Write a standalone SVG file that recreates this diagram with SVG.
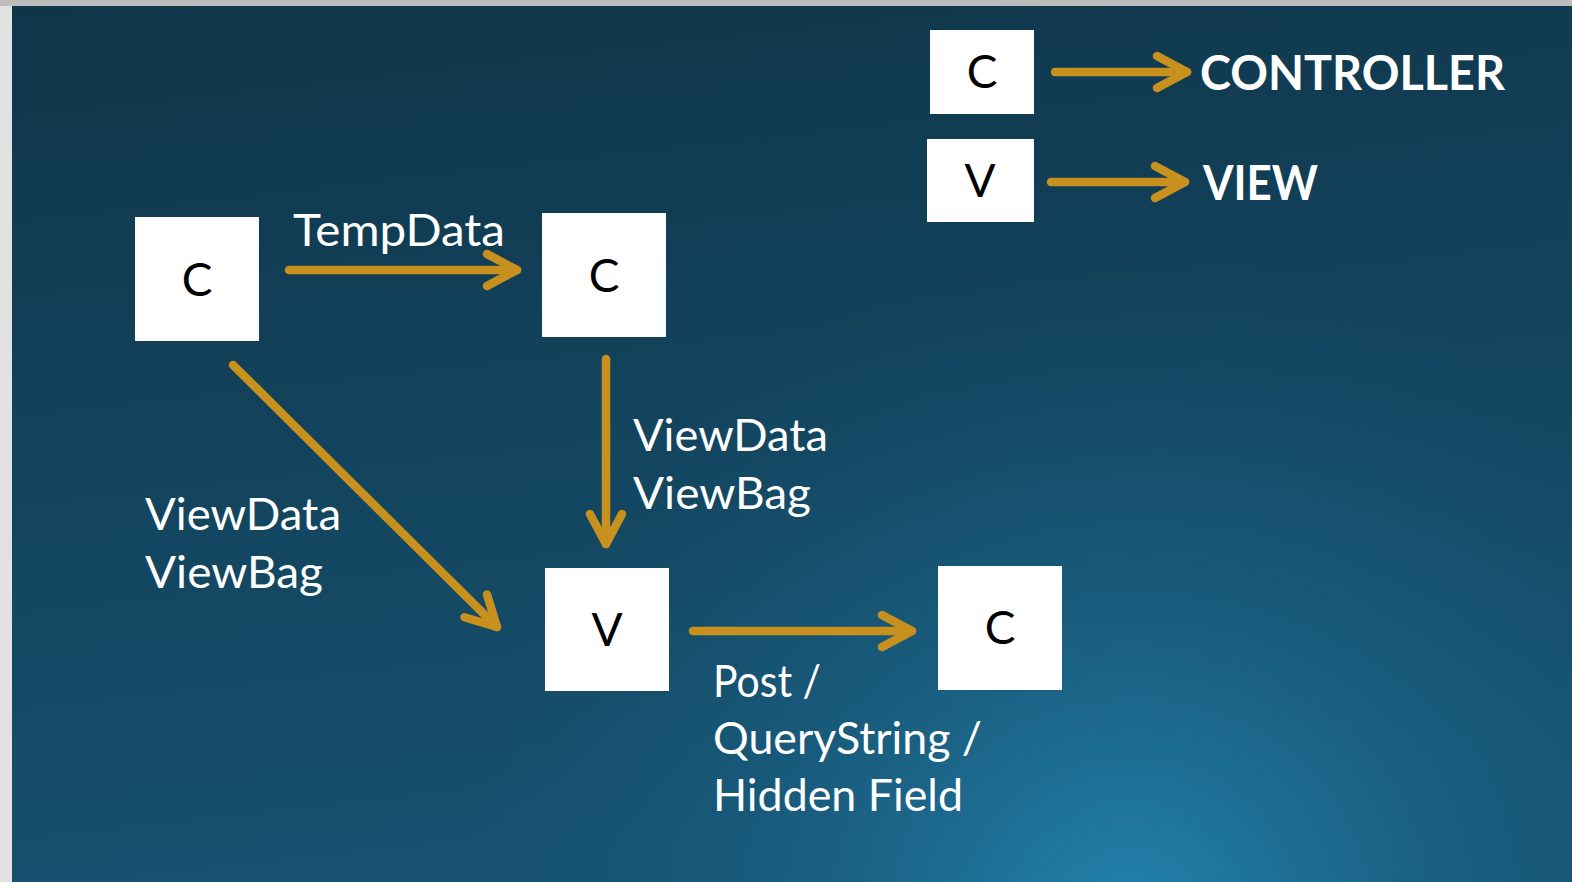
<svg xmlns="http://www.w3.org/2000/svg" width="1572" height="882" viewBox="0 0 1572 882">
  <style>
    .box { fill: #ffffff; }
    .boxtxt { font-family: "Lato", "Open Sans", sans-serif; font-size: 46px; fill: #000000; text-anchor: middle; }
    .lbl { font-family: "Lato", "Open Sans", sans-serif; font-size: 44px; fill: #ffffff; }
    .legend { font-family: "Lato", "Open Sans", sans-serif; font-size: 48px; font-weight: bold; fill: #ffffff; }
    .conn { stroke: #c8901c; stroke-width: 8.5; stroke-linecap: round; fill: none; marker-end: url(#chev); }
  </style>
  <defs>
    <linearGradient id="bg" x1="0" y1="0" x2="0.2" y2="1">
      <stop offset="0" stop-color="#0f3549"/>
      <stop offset="1" stop-color="#16516f"/>
    </linearGradient>
    <radialGradient id="glow" cx="1130" cy="930" r="680" gradientUnits="userSpaceOnUse">
      <stop offset="0" stop-color="#2488b4" stop-opacity="0.95"/>
      <stop offset="0.5" stop-color="#1d6d93" stop-opacity="0.45"/>
      <stop offset="1" stop-color="#175676" stop-opacity="0"/>
    </radialGradient>
    <linearGradient id="frameL" x1="0" y1="0" x2="1" y2="0">
      <stop offset="0" stop-color="#e2e2e2"/>
      <stop offset="1" stop-color="#b8b8b8"/>
    </linearGradient>
    <marker id="chev" markerUnits="userSpaceOnUse" viewBox="-40 -25 50 50" refX="0" refY="0" markerWidth="50" markerHeight="50" orient="auto" overflow="visible">
      <path d="M-30,-16 L0,0 L-30,16" fill="none" stroke="#c8901c" stroke-width="8.5" stroke-linecap="round" stroke-linejoin="round"/>
    </marker>
  </defs>

  <rect x="0" y="0" width="1572" height="882" fill="url(#frameL)"/>
  <rect x="0" y="0" width="1572" height="6" fill="#bcbcbc"/>
  <rect x="12" y="6" width="1560" height="876" fill="url(#bg)"/>
  <rect x="12" y="6" width="1560" height="876" fill="url(#glow)"/>

  <g id="connectors">
    <line class="conn" x1="1055" y1="72" x2="1187" y2="72"/>
    <line class="conn" x1="1051" y1="182" x2="1185" y2="182"/>
    <line class="conn" x1="289" y1="270" x2="517" y2="270"/>
    <line class="conn" x1="606" y1="359" x2="606" y2="544"/>
    <line class="conn" x1="233" y1="365" x2="497" y2="627"/>
    <line class="conn" x1="693" y1="631" x2="912" y2="631"/>
  </g>

  <g id="legend-c">
    <rect class="box" x="930" y="30" width="104" height="84"/>
    <text class="boxtxt" x="982" y="88">C</text>
  </g>
  <g id="legend-v">
    <rect class="box" x="927" y="139" width="107" height="83"/>
    <text class="boxtxt" x="980" y="197">V</text>
  </g>
  <g id="legend-labels">
    <text class="legend" x="1200" y="90" textLength="305" lengthAdjust="spacingAndGlyphs">CONTROLLER</text>
    <text class="legend" x="1203" y="200" textLength="115" lengthAdjust="spacingAndGlyphs">VIEW</text>
  </g>

  <g id="c1">
    <rect class="box" x="135" y="217" width="124" height="124"/>
    <text class="boxtxt" x="197" y="296">C</text>
  </g>
  <g id="c2">
    <rect class="box" x="542" y="213" width="124" height="124"/>
    <text class="boxtxt" x="604" y="292">C</text>
  </g>
  <g id="v1">
    <rect class="box" x="545" y="568" width="124" height="123"/>
    <text class="boxtxt" x="607" y="646">V</text>
  </g>
  <g id="c3">
    <rect class="box" x="938" y="566" width="124" height="124"/>
    <text class="boxtxt" x="1000" y="644">C</text>
  </g>

  <g id="labels">
    <text class="lbl" x="293" y="246" textLength="212" lengthAdjust="spacingAndGlyphs">TempData</text>
    <text class="lbl" x="633" y="451" textLength="195" lengthAdjust="spacingAndGlyphs">ViewData</text>
    <text class="lbl" x="633" y="509" textLength="178" lengthAdjust="spacingAndGlyphs">ViewBag</text>
    <text class="lbl" x="145" y="530" textLength="196" lengthAdjust="spacingAndGlyphs">ViewData</text>
    <text class="lbl" x="145" y="588" textLength="178" lengthAdjust="spacingAndGlyphs">ViewBag</text>
    <text class="lbl" x="713" y="697" textLength="108" lengthAdjust="spacingAndGlyphs">Post /</text>
    <text class="lbl" x="713" y="754" textLength="269" lengthAdjust="spacingAndGlyphs">QueryString /</text>
    <text class="lbl" x="713" y="811" textLength="250" lengthAdjust="spacingAndGlyphs">Hidden Field</text>
  </g>
</svg>
